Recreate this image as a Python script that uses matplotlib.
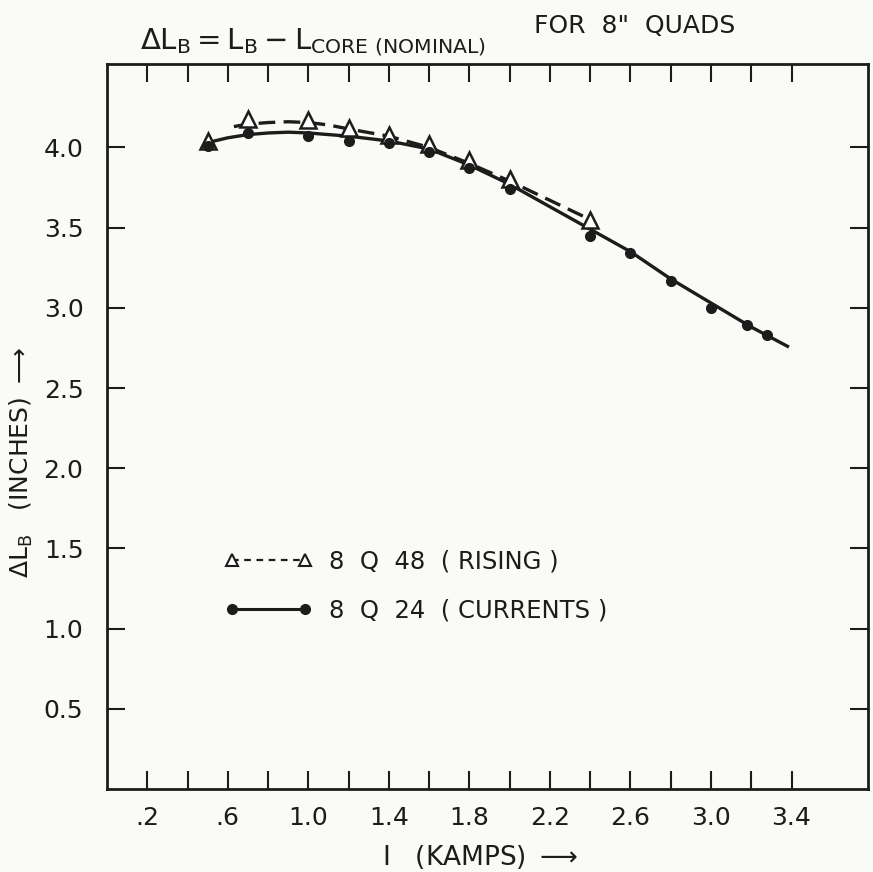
import numpy as np
import matplotlib.pyplot as plt

# measured points, 8Q48 (rising) - open triangles
tri_x = [0.5, 0.7, 1.0, 1.2, 1.4, 1.6, 1.8, 2.0, 2.4]
tri_y = [4.04, 4.18, 4.17, 4.12, 4.08, 4.02, 3.92, 3.80, 3.55]
# measured points, 8Q24 (currents) - solid dots
dot_x = [0.5, 0.7, 1.0, 1.2, 1.4, 1.6, 1.8, 2.0, 2.4, 2.6, 2.8, 3.0, 3.18, 3.28]
dot_y = [4.01, 4.09, 4.07, 4.04, 4.03, 3.97, 3.87, 3.74, 3.45, 3.34, 3.17, 3.00, 2.89, 2.83]

# hand-drawn curves
dash_x = [0.63, 0.70, 0.80, 0.90, 1.00, 1.10, 1.20, 1.40, 1.60, 1.80, 2.00, 2.20, 2.40]
dash_y = [4.13, 4.145, 4.155, 4.16, 4.155, 4.14, 4.115, 4.07, 4.00, 3.90, 3.79, 3.67, 3.55]
solid_x = [0.50, 0.60, 0.70, 0.80, 0.90, 1.00, 1.20, 1.40, 1.60, 1.80, 2.00, 2.20,
           2.40, 2.60, 2.80, 3.00, 3.20, 3.38]
solid_y = [4.03, 4.06, 4.08, 4.09, 4.095, 4.09, 4.07, 4.04, 3.99, 3.89, 3.77, 3.63,
           3.49, 3.35, 3.18, 3.03, 2.88, 2.76]

xticks = np.arange(0.2, 3.41, 0.2)
xlabels = ['.2', '', '.6', '', '1.0', '', '1.4', '', '1.8', '', '2.2', '', '2.6', '', '3.0', '', '3.4']
yticks = [0.5, 1.0, 1.5, 2.0, 2.5, 3.0, 3.5, 4.0]
ylabels = ['0.5', '1.0', '1.5', '2.0', '2.5', '3.0', '3.5', '4.0']

ink = '#1c1c1c'
paper = '#fafaf6'

plt.rcParams['font.family'] = ['DejaVu Sans']
fig = plt.figure(figsize=(8.73, 8.72), dpi=100, facecolor=paper)
ax = fig.add_axes([0.1226, 0.0952, 0.8717, 0.8314])
ax.set_facecolor(paper)

ax.plot(dash_x, dash_y, color=ink, lw=2.4, ls=(0, (5, 2.5)))
ax.plot(solid_x, solid_y, color=ink, lw=2.4)
ax.plot(tri_x, tri_y, ls='none', marker='^', ms=11, mfc='white', mec=ink, mew=1.8)
ax.plot(dot_x, dot_y, ls='none', marker='o', ms=7, color=ink)

# legend samples
h1, = ax.plot([], [], color=ink, lw=1.6, ls=(0, (3, 2.5)), marker='^', ms=9,
              mfc='white', mec=ink, mew=1.5, label='8  Q  48  ( RISING )')
h2, = ax.plot([], [], color=ink, lw=2.2, marker='o', ms=7,
              label='8  Q  24  ( CURRENTS )')
ax.legend(handles=[h1, h2], numpoints=2, frameon=False, loc='center left',
          bbox_to_anchor=(0.155, 0.28), borderpad=0, borderaxespad=0,
          handlelength=3.6, handletextpad=0.7, labelspacing=1.0,
          prop={'size': 17.5}, labelcolor=ink)

ax.set_xlim(0, 3.78)
ax.set_ylim(0, 4.52)
ax.set_xticks(xticks)
ax.set_xticklabels(xlabels)
ax.set_yticks(yticks)
ax.set_yticklabels(ylabels)
ax.tick_params(direction='in', length=13, width=1.5, colors=ink, labelsize=18,
               top=True, right=True)
ax.tick_params(axis='x', pad=12)
ax.tick_params(axis='y', pad=17)
for s in ax.spines.values():
    s.set_color(ink)
    s.set_linewidth(2.0)

ax.set_xlabel(r'I   (KAMPS) $\longrightarrow$', fontsize=19, color=ink)
ax.xaxis.set_label_coords(0.49, -0.075)
ax.set_ylabel(r'$\Delta\mathrm{L_B}$   (INCHES) $\longrightarrow$', fontsize=18,
              color=ink)
ax.yaxis.set_label_coords(-0.095, 0.45)

fig.text(0.160, 0.952, r'$\Delta\mathrm{L_B = L_B - L_{CORE\ (NOMINAL)}}$',
         fontsize=21, color=ink, va='center', ha='left')
fig.text(0.612, 0.970, 'FOR  8"  QUADS', fontsize=18, color=ink,
         va='center', ha='left')

fig.savefig('out.png', dpi=100, facecolor=paper)
